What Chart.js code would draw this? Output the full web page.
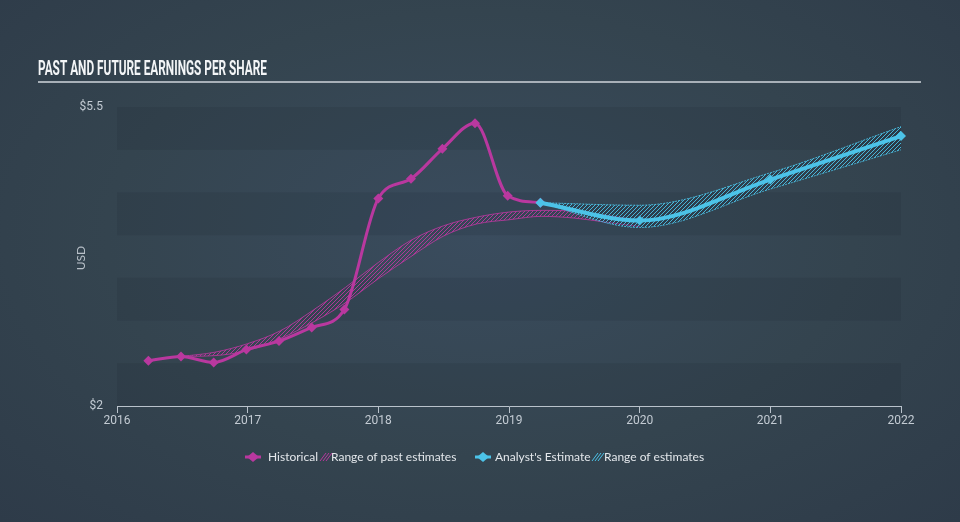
<!DOCTYPE html>
<html>
<head>
<meta charset="utf-8">
<script src="https://cdn.jsdelivr.net/npm/chart.js@4"></script>
<style>
  html, body { margin: 0; padding: 0; }
  body {
    width: 960px; height: 522px; overflow: hidden;
    background: radial-gradient(ellipse at 50% 45%, #3a4c5e 0%, #34444f 55%, #2e3b49 100%);
  }
  canvas { display: block; }
</style>
</head>
<body>
<canvas id="epsChart" width="960" height="522"></canvas>
<script>
// historical EPS (quarterly)
const histYears = [2016.24, 2016.49, 2016.74, 2016.99, 2017.24, 2017.49, 2017.74, 2018.0, 2018.25, 2018.49, 2018.74, 2018.99, 2019.24];
const histEps = [2.53, 2.58, 2.51, 2.66, 2.76, 2.92, 3.13, 4.43, 4.66, 5.01, 5.31, 4.46, 4.38];

// range of past estimates
const pastRangeYears = [2016.49, 2016.75, 2017.0, 2017.25, 2017.5, 2017.75, 2018.0, 2018.25, 2018.5, 2018.75, 2019.0, 2019.25, 2019.5, 2019.75, 2020.0];
const pastRangeHigh = [2.58, 2.63, 2.73, 2.88, 3.12, 3.39, 3.68, 3.94, 4.11, 4.21, 4.27, 4.29, 4.28, 4.23, 4.17];
const pastRangeLow = [2.58, 2.59, 2.65, 2.79, 2.98, 3.21, 3.49, 3.75, 3.99, 4.13, 4.18, 4.22, 4.20, 4.15, 4.10];

// analyst estimates
const estYears = [2019.24, 2020.0, 2021.0, 2022.0];
const estEps = [4.38, 4.17, 4.65, 5.16];
const estHigh = [4.38, 4.35, 4.73, 5.27];
const estLow = [4.38, 4.09, 4.54, 5.00];

const yTickLabels = [2, 5.5];

const MAGENTA = "#b9389f";
const CYAN = "#4cc3e8";

function pts(xs, ys) {
  return xs.map((x, i) => ({ x: x, y: ys[i] }));
}

function hatch(color, bg) {
  const c = document.createElement("canvas");
  c.width = 4;
  c.height = 4;
  const g = c.getContext("2d");
  if (bg) {
    g.fillStyle = bg;
    g.fillRect(0, 0, 4, 4);
  }
  g.strokeStyle = color;
  g.lineWidth = 1;
  g.beginPath();
  g.moveTo(0, 4); g.lineTo(4, 0);
  g.moveTo(-1, 1); g.lineTo(1, -1);
  g.moveTo(3, 5); g.lineTo(5, 3);
  g.stroke();
  return g.createPattern(c, "repeat");
}

// dark/light horizontal bands + title, USD label, legend
const decor = {
  id: "decor",
  beforeDatasetsDraw(chart) {
    const { ctx, chartArea: a, scales: { y } } = chart;
    ctx.save();
    ctx.fillStyle = "rgba(18, 26, 36, 0.11)";
    for (let v = 5.5; v > 2; v -= 1) {
      const top = y.getPixelForValue(v);
      const bot = y.getPixelForValue(v - 0.5);
      ctx.fillRect(a.left, top, a.right - a.left, bot - top);
    }
    ctx.restore();
  },
  afterDraw(chart) {
    const ctx = chart.ctx;
    ctx.save();

    // title
    const title = "PAST AND FUTURE EARNINGS PER SHARE";
    ctx.font = "bold 21px Roboto";
    ctx.fillStyle = "#f3f5f7";
    ctx.textBaseline = "alphabetic";
    const w = ctx.measureText(title).width;
    ctx.save();
    ctx.translate(38, 75);
    ctx.scale(229 / w, 1);
    ctx.fillText(title, 0, 0);
    ctx.restore();

    ctx.strokeStyle = "#a8b0b8";
    ctx.lineWidth = 2;
    ctx.beginPath();
    ctx.moveTo(38, 82);
    ctx.lineTo(921, 82);
    ctx.stroke();

    // y axis label
    ctx.save();
    ctx.translate(81, 258);
    ctx.rotate(-Math.PI / 2);
    ctx.font = "12px Lato";
    ctx.fillStyle = "#b9c1c9";
    ctx.textAlign = "center";
    ctx.textBaseline = "middle";
    ctx.fillText("USD", 0, 0);
    ctx.restore();

    // legend
    const ly = 457;
    ctx.font = "12px Lato";
    ctx.textBaseline = "middle";
    ctx.textAlign = "left";

    function lineIcon(cx, color) {
      ctx.strokeStyle = color;
      ctx.lineWidth = 3;
      ctx.beginPath();
      ctx.moveTo(cx - 8, ly);
      ctx.lineTo(cx + 8, ly);
      ctx.stroke();
      ctx.fillStyle = color;
      ctx.beginPath();
      ctx.moveTo(cx, ly - 5);
      ctx.lineTo(cx + 6, ly);
      ctx.lineTo(cx, ly + 5);
      ctx.lineTo(cx - 6, ly);
      ctx.closePath();
      ctx.fill();
    }
    function hatchIcon(x, color) {
      ctx.strokeStyle = color;
      ctx.lineWidth = 1;
      ctx.beginPath();
      for (let i = 0; i < 3; i++) {
        ctx.moveTo(x + i * 3, ly + 4);
        ctx.lineTo(x + i * 3 + 6, ly - 4);
      }
      ctx.stroke();
    }

    lineIcon(253, MAGENTA);
    ctx.fillStyle = "#e3e7eb";
    ctx.fillText("Historical", 268, ly);
    hatchIcon(320, MAGENTA);
    ctx.fillStyle = "#e3e7eb";
    ctx.fillText("Range of past estimates", 331, ly);

    lineIcon(483, CYAN);
    ctx.fillStyle = "#e3e7eb";
    ctx.fillText("Analyst's Estimate", 495, ly);
    hatchIcon(592, CYAN);
    ctx.fillStyle = "#e3e7eb";
    ctx.fillText("Range of estimates", 604, ly);

    ctx.restore();
  }
};

const ctx = document.getElementById("epsChart");
new Chart(ctx, {
  type: "line",
  data: {
    datasets: [
      {
        label: "Analyst's Estimate",
        data: pts(estYears, estEps),
        borderColor: CYAN,
        backgroundColor: CYAN,
        borderWidth: 4,
        pointStyle: "rectRot",
        pointRadius: 5,
        pointBorderWidth: 0,
        cubicInterpolationMode: "monotone",
        fill: false,
        clip: 8,
        order: 1
      },
      {
        label: "Historical",
        data: pts(histYears, histEps),
        borderColor: MAGENTA,
        backgroundColor: MAGENTA,
        borderWidth: 3,
        pointStyle: "rectRot",
        pointRadius: 5,
        pointBorderWidth: 0,
        cubicInterpolationMode: "monotone",
        fill: false,
        order: 2
      },
      {
        label: "Range of past estimates",
        data: pts(pastRangeYears, pastRangeHigh),
        borderColor: "rgba(185, 56, 159, 0.85)",
        borderWidth: 1,
        pointRadius: 0,
        cubicInterpolationMode: "monotone",
        backgroundColor: hatch("rgba(185, 56, 159, 0.9)"),
        fill: 3,
        order: 4
      },
      {
        label: "past low",
        data: pts(pastRangeYears, pastRangeLow),
        borderColor: "rgba(185, 56, 159, 0.85)",
        borderWidth: 1,
        pointRadius: 0,
        cubicInterpolationMode: "monotone",
        fill: false,
        order: 4
      },
      {
        label: "Range of estimates",
        data: pts(estYears, estHigh),
        borderColor: "rgba(76, 195, 232, 0.9)",
        borderWidth: 1,
        borderDash: [2, 1],
        pointRadius: 0,
        cubicInterpolationMode: "monotone",
        backgroundColor: hatch("rgba(76, 195, 232, 0.9)", "rgba(30, 45, 60, 0.25)"),
        fill: 5,
        order: 3
      },
      {
        label: "est low",
        data: pts(estYears, estLow),
        borderColor: "rgba(76, 195, 232, 0.9)",
        borderWidth: 1,
        borderDash: [2, 1],
        pointRadius: 0,
        cubicInterpolationMode: "monotone",
        fill: false,
        order: 3
      }
    ]
  },
  options: {
    responsive: false,
    animation: false,
    layout: { padding: { left: 0, right: 59, top: 107, bottom: 0 } },
    plugins: {
      legend: { display: false },
      tooltip: { enabled: false }
    },
    scales: {
      x: {
        type: "linear",
        min: 2016,
        max: 2022,
        afterFit: (s) => { s.height = 116; },
        ticks: {
          stepSize: 1,
          maxRotation: 0,
          padding: 1,
          color: "#c3cbd3",
          font: { family: "Roboto", size: 12 },
          callback: (v) => String(v)
        },
        grid: { drawOnChartArea: false, drawTicks: true, tickLength: 7, color: "#b9c2cb" },
        border: { display: true, color: "#b9c2cb", width: 1 }
      },
      y: {
        min: 2,
        max: 5.5,
        afterFit: (s) => { s.width = 117; },
        ticks: {
          stepSize: 0.5,
          padding: 14,
          color: "#c3cbd3",
          font: { family: "Roboto", size: 12 },
          callback: (v) => (yTickLabels.includes(v) ? "$" + v : "")
        },
        grid: { display: false, drawTicks: false },
        border: { display: false }
      }
    }
  },
  plugins: [decor]
});
</script>
</body>
</html>
